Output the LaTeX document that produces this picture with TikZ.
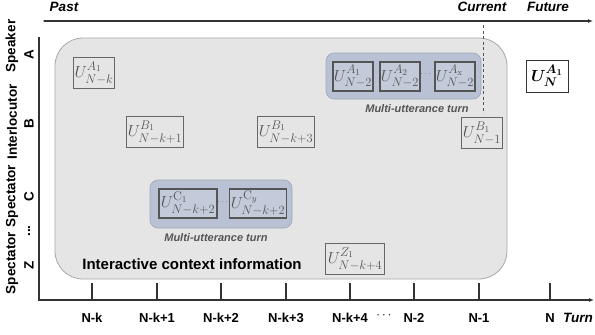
\documentclass[tikz,border=0pt]{standalone}
\usepackage{fix-cm}
\usepackage{amsmath,bm}
\usepackage[no-math]{fontspec}
\setmainfont{Liberation Sans}
\usetikzlibrary{arrows.meta}
\DeclareMathSizes{16}{16}{12.5}{9}
\definecolor{axc}{HTML}{333333}
\definecolor{regfill}{HTML}{E5E5E5}
\definecolor{regdraw}{HTML}{A8A8A8}
\definecolor{grpfill}{HTML}{B9C2D5}
\definecolor{grpdraw}{HTML}{9DA6B9}
\definecolor{inbox}{HTML}{C3CAD9}
\definecolor{utxt}{HTML}{555555}
\definecolor{mtxt}{HTML}{555555}
\tikzset{
  axis/.style={line width=1.3pt, draw=axc},
  lab/.style={font=\fontsize{13}{15}\selectfont\bfseries, text=black, inner sep=0pt},
  ilab/.style={font=\fontsize{13.5}{15}\selectfont\bfseries\itshape, text=black, inner sep=0pt},
  rowlab/.style={font=\fontsize{13.5}{15}\selectfont\bfseries, rotate=90, inner sep=0pt},
  region/.style={draw=regdraw, fill=regfill, line width=0.8pt, rounded corners=28pt},
  group/.style={draw=grpdraw, fill=grpfill, line width=0.6pt, rounded corners=8pt},
  ubox/.style={draw=utxt!90, line width=0.8pt, minimum height=31pt, inner sep=1pt, text=utxt, font=\fontsize{16}{18}\selectfont},
  gbox/.style={draw=utxt, fill=inbox, line width=1.3pt, minimum height=29pt, inner sep=1pt, text=utxt, font=\fontsize{16}{18}\selectfont},
  nbox/.style={draw=axc, fill=white, line width=1pt, minimum height=32pt, minimum width=42pt, inner sep=1pt, text=black, font=\fontsize{16}{18}\selectfont},
  mut/.style={font=\fontsize{11}{13}\selectfont\bfseries\itshape, text=mtxt, inner sep=0pt},
  dots/.style={font=\fontsize{9}{10}\selectfont, text=utxt, inner sep=0pt},
  tick/.style={line width=1.1pt, draw=axc}
}
\begin{document}
\begin{tikzpicture}[x=1pt,y=-1pt]
\useasboundingbox (0,0) rectangle (595,335);
% context region
\node[region, minimum width=452pt, minimum height=241pt] (ctx) at (281,158.5) {};
\node[font=\fontsize{15}{17}\selectfont\bfseries, inner sep=0pt] (ctxlab) at (192,264) {Interactive context information};
% dashed current line
\coordinate (d1) at (483,25);
\coordinate (d2) at (483,113);
\draw[draw=utxt, line width=0.9pt, dash pattern=on 3pt off 2.5pt] (d1) -- (d2);
% top time axis
\coordinate (tl) at (44,21);
\coordinate (tr) at (593,21);
\draw[axis, line width=1.1pt, line cap=round, -{Latex[length=5pt,width=4pt]}] (tl) -- (tr);
\node[ilab] (past) at (64,7) {Past};
\node[ilab] (cur) at (482,7) {Current};
\node[ilab] (fut) at (548,7) {Future};
% left and bottom axes
\coordinate (ytop) at (39,37);
\coordinate (org) at (39,300);
\coordinate (xend) at (594,300);
\draw[axis, -{Latex[length=5pt,width=4pt]}] (ytop) -- (org) -- (xend);
% ticks and labels
\foreach \x/\t [count=\i] in {92/N-k,157/N-k+1,221/N-k+2,286/N-k+3,350/N-k+4,414/N-2,479/N-1,550/N}{
  \coordinate (ta\i) at (\x,283);
  \coordinate (tb\i) at (\x,300);
  \draw[tick] (ta\i) -- (tb\i);
  \node[lab] (tl\i) at (\x,318) {\t};
}
\node[lab] (tdots) at (385,316) {$\cdots$};
\node[ilab] (turn) at (578,318) {Turn};
% row labels
\node[rowlab] (r1a) at (12,46) {Speaker};
\node[rowlab] (r1b) at (29,55) {A};
\node[rowlab] (r2a) at (12,122) {Interlocutor};
\node[rowlab] (r2b) at (29,124) {B};
\node[rowlab] (r3a) at (12,196) {Spectator};
\node[rowlab] (r3b) at (29,197) {C};
\node[rowlab] (r4) at (29,231) {...};
\node[rowlab] (r5a) at (12,263) {Spectator};
\node[rowlab] (r5b) at (29,265) {Z};
% top multi-utterance group
\node[group, minimum width=155pt, minimum height=46pt] (g1) at (403.5,76) {};
\node[gbox, minimum width=38pt] (a1) at (353,76.5) {$U^{A_1}_{N-2}$};
\node[gbox, minimum width=37pt] (a2) at (400,76.5) {$U^{A_2}_{N-2}$};
\node[dots] (adots) at (426.5,74) {$\cdots$};
\node[gbox, minimum width=37pt] (ax) at (455,76.5) {$U^{A_\mathrm{x}}_{N-2}$};
\node[mut] (m1) at (417,109) {Multi-utterance turn};
% bottom multi-utterance group
\node[group, minimum width=142pt, minimum height=48pt] (g2) at (221,204) {};
\node[gbox, minimum width=58pt] (c1) at (188,203.5) {$U^{\mathrm{C}_1}_{N-k+2}$};
\node[dots] (cdots) at (223.5,202) {$\cdots$};
\node[gbox, minimum width=56pt] (cy) at (258,203.5) {$U^{\mathrm{C}_y}_{N-k+2}$};
\node[mut] (m2) at (216,238) {Multi-utterance turn};
% single utterances
\node[ubox, minimum width=41pt] (u1) at (94,73) {$U^{A_1}_{N-k}$};
\node[ubox, minimum width=56pt] (u2) at (155,132) {$U^{B_1}_{N-k+1}$};
\node[ubox, minimum width=56pt] (u3) at (286,132) {$U^{B_1}_{N-k+3}$};
\node[ubox, minimum width=41pt] (u4) at (482,133) {$U^{B_1}_{N-1}$};
\node[ubox, minimum width=59pt] (u5) at (355,259) {$U^{Z_1}_{N-k+4}$};
\node[nbox] (un) at (547,76) {$\bm{U^{A_1}_{N}}$};
\end{tikzpicture}
\end{document}
